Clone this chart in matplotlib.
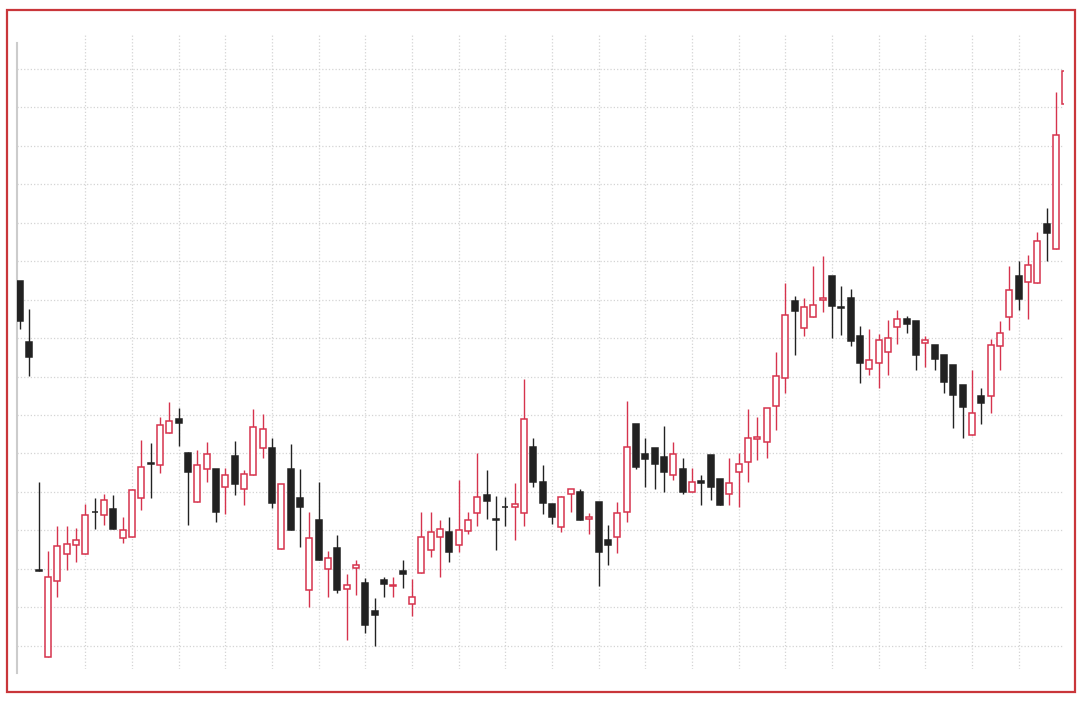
import numpy as np
import matplotlib
matplotlib.use("Agg")
import matplotlib.pyplot as plt
from matplotlib.patches import Rectangle

# daily OHLC
opens = [29.47, 27.89, 21.96, 19.72, 21.68, 22.39, 22.63, 22.40, 23.49, 23.40,
         23.55, 22.81, 22.83, 23.84, 24.74, 24.69, 25.53, 25.90, 25.02, 23.74,
         24.60, 24.59, 24.13, 24.94, 24.08, 24.45, 25.14, 25.14, 22.53, 24.59,
         23.85, 21.44, 23.26, 22.01, 22.54, 21.49, 22.02, 21.63, 20.91, 21.70,
         21.56, 21.95, 21.08, 21.89, 22.49, 22.83, 22.95, 22.63, 22.99, 23.45,
         23.93, 23.29, 23.62, 23.61, 23.45, 25.18, 24.27, 23.69, 23.09, 23.94,
         24.01, 23.29, 23.74, 22.74, 22.83, 23.48, 25.76, 24.99, 25.14, 24.91,
         24.44, 24.59, 24.00, 24.29, 24.95, 24.34, 23.94, 24.53, 24.79, 25.38,
         25.30, 26.24, 26.96, 28.95, 28.26, 28.54, 28.99, 29.60, 28.80, 29.05,
         28.04, 27.20, 27.35, 27.63, 28.28, 28.50, 28.45, 27.88, 27.82, 27.56,
         27.30, 26.78, 25.48, 26.50, 26.50, 27.80, 28.54, 29.60, 29.45, 29.44,
         30.97, 30.32, 34.08]
highs = [29.47, 28.75, 24.26, 22.47, 23.12, 23.12, 23.06, 23.68, 23.85, 23.95,
         23.92, 23.34, 24.08, 25.34, 25.26, 25.96, 26.33, 26.18, 25.05, 25.09,
         25.30, 24.59, 24.62, 25.33, 24.56, 26.16, 26.02, 25.40, 24.20, 25.25,
         24.60, 23.48, 24.26, 22.47, 22.89, 21.87, 22.22, 21.76, 21.24, 21.80,
         21.80, 22.24, 21.73, 23.47, 23.47, 23.26, 23.36, 24.32, 23.47, 25.02,
         24.56, 23.90, 23.87, 24.23, 26.93, 25.40, 24.70, 23.69, 23.90, 24.08,
         24.08, 23.46, 23.74, 23.15, 23.73, 26.37, 25.76, 25.40, 25.14, 25.72,
         25.30, 24.89, 24.62, 24.45, 24.95, 24.34, 24.88, 25.02, 26.16, 25.96,
         26.18, 27.65, 29.44, 29.08, 29.04, 29.88, 30.12, 29.60, 29.34, 29.27,
         28.30, 28.24, 28.10, 28.46, 28.73, 28.56, 28.45, 28.04, 27.82, 27.56,
         27.30, 26.78, 27.17, 26.70, 27.97, 28.43, 29.88, 29.99, 30.16, 30.75,
         31.38, 34.38, 34.93]
lows = [28.24, 27.02, 21.95, 19.72, 21.26, 21.96, 22.18, 22.40, 23.05, 23.15,
        23.03, 22.67, 22.83, 23.52, 23.85, 24.49, 25.53, 25.20, 23.15, 23.74,
        24.26, 23.22, 23.43, 23.91, 23.67, 24.45, 24.88, 23.58, 22.53, 23.02,
        22.56, 21.01, 22.23, 21.27, 21.37, 20.16, 21.31, 20.33, 20.00, 21.26,
        21.26, 21.50, 20.79, 21.89, 22.31, 21.79, 22.18, 22.43, 22.90, 23.12,
        23.29, 22.50, 23.12, 22.76, 23.12, 24.14, 23.43, 23.16, 22.97, 23.47,
        23.28, 22.91, 21.56, 22.11, 22.41, 23.23, 24.59, 24.13, 24.08, 24.01,
        24.30, 23.95, 24.00, 23.67, 23.80, 23.67, 23.67, 23.61, 24.27, 24.82,
        24.88, 25.60, 26.57, 27.56, 28.06, 28.54, 28.67, 28.01, 28.08, 27.78,
        26.84, 27.04, 26.71, 27.03, 27.85, 28.14, 27.17, 27.26, 27.17, 26.58,
        25.66, 25.40, 25.48, 25.77, 26.05, 27.16, 28.21, 28.73, 28.50, 29.44,
        29.99, 30.32, 34.08]
closes = [28.43, 27.50, 21.95, 21.79, 22.60, 22.64, 22.74, 23.40, 23.48, 23.80,
          23.03, 23.00, 24.06, 24.65, 24.73, 25.75, 25.85, 25.80, 24.53, 24.70,
          24.98, 23.48, 24.45, 24.21, 24.46, 25.70, 25.64, 23.71, 24.20, 23.02,
          23.62, 22.80, 22.23, 22.29, 21.46, 21.58, 22.09, 20.54, 20.81, 21.60,
          21.57, 21.86, 21.28, 22.84, 22.95, 23.03, 22.43, 23.00, 23.26, 23.88,
          23.76, 23.28, 23.61, 23.68, 25.90, 24.27, 23.71, 23.35, 23.87, 24.08,
          23.28, 23.35, 22.44, 22.63, 23.45, 25.18, 24.66, 24.86, 24.72, 24.53,
          24.98, 24.01, 24.26, 24.23, 24.14, 23.67, 24.24, 24.72, 25.40, 25.44,
          26.18, 27.02, 28.60, 28.71, 28.80, 28.86, 29.05, 28.82, 28.79, 27.91,
          27.36, 27.42, 27.95, 28.01, 28.50, 28.37, 27.56, 27.94, 27.45, 26.85,
          26.52, 26.20, 26.05, 26.31, 27.82, 28.13, 29.25, 29.01, 29.90, 30.51,
          30.74, 33.28, 34.93]

up_color = '#d6334d'
down_color = '#222222'

o = np.array(opens)
h = np.array(highs)
l = np.array(lows)
c = np.array(closes)
x = np.arange(len(o))
up = c >= o

fig = plt.figure(figsize=(10.85, 7.03), dpi=100)
ax = fig.add_axes([17/1085, 1 - 669/703, (1064 - 17)/1085, (669 - 34)/703])

# wicks
ax.vlines(x[up], l[up], h[up], color=up_color, linewidth=1.0, zorder=2)
ax.vlines(x[~up], l[~up], h[~up], color=down_color, linewidth=1.0, zorder=2)

# bodies
body = np.maximum(np.abs(c - o), 0.004)
bottom = np.minimum(o, c)
ax.bar(x[up], body[up], bottom=bottom[up], width=0.66, facecolor='white',
       edgecolor=up_color, linewidth=1.1, zorder=3)
ax.bar(x[~up], body[~up], bottom=bottom[~up], width=0.66, facecolor=down_color,
       edgecolor=down_color, linewidth=1.1, zorder=3)

ax.set_xlim(-0.32, 111.85)
ax.set_ylim(19.4, 35.9)
ax.set_xticks(np.arange(7, 112, 5))
ax.set_yticks(np.arange(20, 36, 1))
ax.tick_params(length=0, labelbottom=False, labelleft=False)
ax.set_axisbelow(True)
ax.grid(True, linestyle=':', color='#d4d4d4', linewidth=0.9)

for side in ['top', 'right', 'bottom']:
    ax.spines[side].set_visible(False)
ax.spines['left'].set_color('#cccccc')
ax.spines['left'].set_linewidth(1.5)
ax.spines['left'].set_bounds(19.3, 35.67)

# red frame round the whole picture
fig.patches.append(Rectangle((7/1085, 1 - 692/703), (1075 - 7)/1085, (692 - 10)/703,
                             transform=fig.transFigure, fill=False,
                             edgecolor='#c9363a', linewidth=1.6))

fig.savefig('out.png', dpi=100, facecolor='white')
